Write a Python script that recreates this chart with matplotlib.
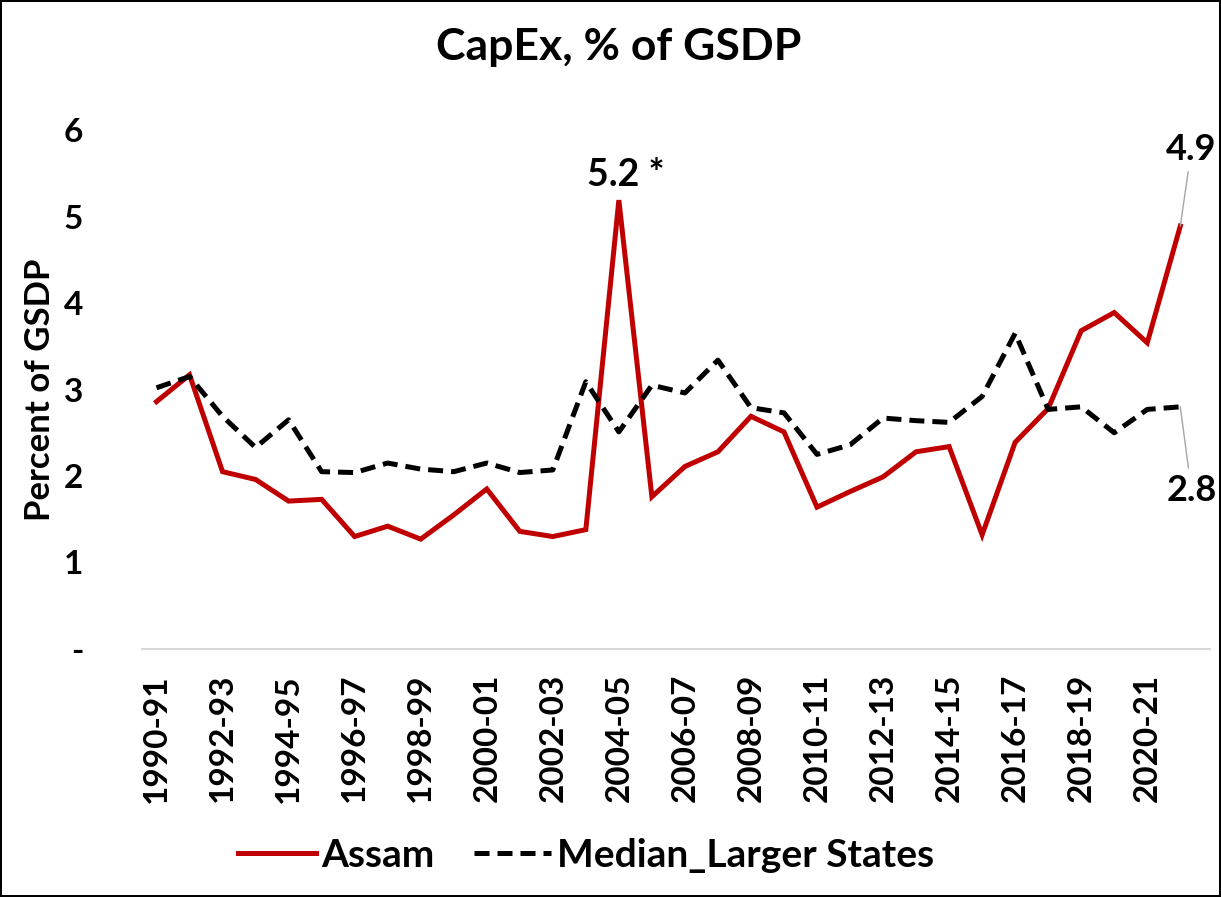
import matplotlib
matplotlib.use("Agg")
import matplotlib.pyplot as plt
from matplotlib.ticker import FixedLocator, FuncFormatter

# Fiscal years 1990-91 .. 2021-22
years = [f"{y}-{str(y + 1)[-2:]}" for y in range(1990, 2022)]

# Capital expenditure as % of GSDP
assam = [2.86, 3.17, 2.05, 1.96, 1.71, 1.73, 1.30, 1.42, 1.27, 1.55,
         1.85, 1.36, 1.30, 1.38, 5.19, 1.76, 2.11, 2.28, 2.69, 2.51,
         1.64, 1.82, 1.99, 2.28, 2.34, 1.32, 2.39, 2.78, 3.68, 3.89,
         3.54, 4.89]
median_larger = [3.02, 3.15, 2.69, 2.33, 2.65, 2.05, 2.04, 2.15, 2.08, 2.05,
                 2.15, 2.04, 2.07, 3.09, 2.51, 3.05, 2.96, 3.34, 2.79, 2.73,
                 2.25, 2.36, 2.67, 2.64, 2.62, 2.92, 3.65, 2.77, 2.80, 2.50,
                 2.77, 2.80]

plt.rcParams['font.family'] = ['Lato', 'DejaVu Sans']
plt.rcParams['font.weight'] = 'bold'

fig = plt.figure(figsize=(12.21, 8.97), dpi=100)
fig.patch.set_edgecolor('black')
fig.patch.set_linewidth(1.5)
ax = fig.add_axes([0.116, 0.2765, 0.875, 0.5785])

x = list(range(len(years)))
ax.plot(x, assam, color='#c00000', lw=3.6, label='Assam', solid_joinstyle='miter')
ax.plot(x, median_larger, color='black', lw=3.6, linestyle=(0, (3.0, 1.6)),
        label='Median_Larger States')

ax.set_xlim(-0.45, 31.9)
ax.set_ylim(0, 6)

# only every second year gets a tick label
ax.xaxis.set_major_locator(FixedLocator(x[::2]))
ax.set_xticklabels(years[::2], rotation=90, fontsize=24, fontweight='bold')
ax.tick_params(axis='x', length=0, pad=18)
ax.yaxis.set_major_locator(FixedLocator(range(0, 7)))
ax.yaxis.set_major_formatter(FuncFormatter(lambda v, p: '-' if v == 0 else f"{v:.0f}"))
ax.tick_params(axis='y', length=0, labelsize=24, pad=42)
for lbl in ax.get_yticklabels():
    lbl.set_fontweight('bold')

for side in ['top', 'right', 'left']:
    ax.spines[side].set_visible(False)
ax.spines['bottom'].set_color('#d9d9d9')
ax.spines['bottom'].set_linewidth(1.5)

ax.set_ylabel('Percent of GSDP', fontsize=25, fontweight='bold', labelpad=6)
fig.suptitle('CapEx, % of GSDP', fontsize=32, fontweight='bold', x=0.507, y=0.97)

# value labels
peak = assam.index(max(assam))
ax.annotate(f"{assam[peak]:.1f} *", (peak, assam[peak]), xytext=(-23, 6),
            textcoords='offset points', ha='left', va='bottom',
            fontsize=27, fontweight='bold')
last = len(years) - 1
ax.annotate(f"{assam[last]:.1f}", (last, assam[last]), xytext=(8, 55),
            textcoords='offset points', ha='center', va='center',
            fontsize=26, fontweight='bold', annotation_clip=False,
            arrowprops=dict(arrowstyle='-', color='#a6a6a6', lw=1, shrinkA=2, shrinkB=0))
ax.annotate(f"{median_larger[last]:.1f}", (last, median_larger[last]), xytext=(8, -60),
            textcoords='offset points', ha='center', va='center',
            fontsize=26, fontweight='bold', annotation_clip=False,
            arrowprops=dict(arrowstyle='-', color='#a6a6a6', lw=1, shrinkA=2, shrinkB=0))

leg = fig.legend(loc='lower center', bbox_to_anchor=(0.48, -0.012), ncol=2,
                 frameon=False, fontsize=28, handlelength=2.0, columnspacing=1.0,
                 handletextpad=0.15)
for t in leg.get_texts():
    t.set_fontweight('bold')

fig.savefig('out.png', dpi=100, edgecolor=fig.get_edgecolor())
